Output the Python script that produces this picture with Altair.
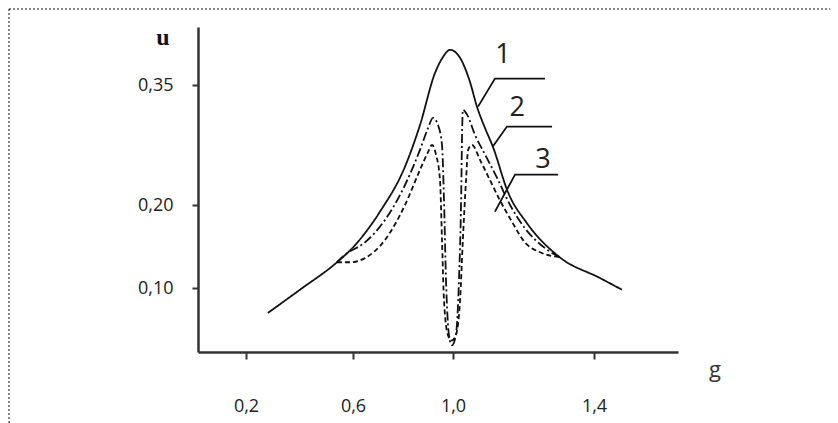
import altair as alt
import pandas as pd

# Curve 1 (solid)
g1 = [0.282, 0.402, 0.540, 0.600, 0.708, 0.808, 0.868, 0.928, 0.960, 0.988, 1.020, 1.048, 1.068, 1.091, 1.113, 1.156, 1.210, 1.303, 1.417, 1.479]
u1 = [0.070, 0.098, 0.131, 0.149, 0.192, 0.248, 0.300, 0.365, 0.385, 0.394, 0.384, 0.354, 0.323, 0.296, 0.273, 0.216, 0.178, 0.137, 0.112, 0.098]

# Curve 2 (dash-dot)
g2 = [0.540, 0.570, 0.648, 0.728, 0.808, 0.868, 0.900, 0.920, 0.940, 0.956, 0.964, 0.972, 0.984, 0.996, 1.008, 1.017, 1.023, 1.026, 1.028, 1.040, 1.062, 1.091, 1.125, 1.162, 1.204, 1.261, 1.303]
u2 = [0.131, 0.140, 0.155, 0.182, 0.225, 0.269, 0.296, 0.309, 0.300, 0.275, 0.206, 0.110, 0.043, 0.031, 0.043, 0.110, 0.206, 0.294, 0.319, 0.313, 0.288, 0.263, 0.234, 0.200, 0.172, 0.148, 0.137]

# Curve 3 (dashed)
g3 = [0.540, 0.589, 0.648, 0.728, 0.808, 0.868, 0.900, 0.916, 0.932, 0.948, 0.956, 0.964, 0.980, 0.996, 1.008, 1.020, 1.028, 1.037, 1.043, 1.054, 1.077, 1.105, 1.133, 1.167, 1.204, 1.247, 1.303]
u3 = [0.131, 0.131, 0.136, 0.158, 0.200, 0.244, 0.266, 0.275, 0.263, 0.231, 0.158, 0.085, 0.043, 0.037, 0.043, 0.085, 0.158, 0.231, 0.269, 0.275, 0.256, 0.231, 0.206, 0.180, 0.155, 0.143, 0.137]

# Curve labels and their leader lines
label_text = ["1", "2", "3"]
label_g = [1.142, 1.182, 1.255]
label_u = [0.387, 0.321, 0.256]
leader_g = [[1.071, 1.119, 1.261], [1.113, 1.153, 1.281], [1.119, 1.176, 1.298]]
leader_u = [[0.323, 0.358, 0.358], [0.273, 0.298, 0.298], [0.192, 0.238, 0.238]]

x_ticks = [0.2, 0.6, 1.0, 1.4]
y_ticks = [0.10, 0.20, 0.35]

rows = []
for name, gs, us in (("1", g1, u1), ("2", g2, u2), ("3", g3, u3)):
    for i, (g, u) in enumerate(zip(gs, us)):
        rows.append({"curve": name, "g": g, "u": u, "ord": i})
curves = pd.DataFrame(rows)

lrows = []
for k, (gs, us) in enumerate(zip(leader_g, leader_u)):
    for i, (g, u) in enumerate(zip(gs, us)):
        lrows.append({"leader": str(k + 1), "g": g, "u": u, "ord": i})
leaders = pd.DataFrame(lrows)
labels = pd.DataFrame({"t": label_text, "g": label_g, "u": label_u})

W, H = 480, 325
xscale = alt.Scale(domain=[0.0206, 0.2, 0.6, 1.0, 1.4, 1.638], range=[0, 48, 155, 255, 396, W], nice=False, zero=False)
yscale = alt.Scale(domain=[0.0229, 0.10, 0.20, 0.35, 0.4225], range=[H, 261, 178, 58, 0], nice=False, zero=False)

font = "Open Sans"
xaxis = alt.Axis(values=x_ticks, labelExpr="replace(format(datum.value,'.1f'),'.',',')", title=None, grid=False,
                 domainColor="#333", domainWidth=2.5, tickColor="#333", tickWidth=2, tickSize=7,
                 labelFont=font, labelFontSize=18, labelColor="#222", labelPadding=38)
yaxis = alt.Axis(values=y_ticks, labelExpr="replace(format(datum.value,'.2f'),'.',',')", title=None, grid=False,
                 domainColor="#333", domainWidth=2.5, tickColor="#333", tickWidth=2, tickSize=6,
                 labelFont=font, labelFontSize=18, labelColor="#222", labelPadding=19)

X = alt.X("g:Q", scale=xscale, axis=xaxis)
Y = alt.Y("u:Q", scale=yscale, axis=yaxis)

lines = alt.Chart(curves).mark_line(color="#111", strokeWidth=1.8, interpolate="monotone").encode(
    x=X, y=Y, order="ord:Q", detail="curve:N",
    strokeDash=alt.StrokeDash("curve:N", scale=alt.Scale(domain=["1", "2", "3"], range=[[1, 0], [9, 3, 2, 3], [5, 3]]), legend=None),
)

leader_lines = alt.Chart(leaders).mark_line(color="#111", strokeWidth=1.8).encode(
    x=X, y=Y, order="ord:Q", detail="leader:N"
)

label_marks = alt.Chart(labels).mark_text(font=font, fontSize=27, color="#222").encode(x=X, y=Y, text="t:N")

u_title = alt.Chart(pd.DataFrame({"t": ["u"]})).mark_text(font="Liberation Serif", fontWeight="bold", fontSize=24, color="#111").encode(
    x=alt.value(-35), y=alt.value(11), text="t:N")
g_title = alt.Chart(pd.DataFrame({"t": ["g"]})).mark_text(font=font, fontSize=22, color="#333").encode(
    x=alt.value(517), y=alt.value(343), text="t:N")

border = alt.Chart(pd.DataFrame({"b": [1]})).mark_rect(fillOpacity=0, stroke="#111", strokeWidth=1, strokeDash=[2, 2]).encode(
    x=alt.value(-189), x2=alt.value(660), y=alt.value(-18), y2=alt.value(420))

chart = alt.layer(border, lines, leader_lines, label_marks, u_title, g_title).properties(
    width=W, height=H,
    autosize=alt.AutoSizeParams(type="none"),
    padding={"left": 190, "top": 19, "right": 152, "bottom": 72},
    background="white",
).configure_view(stroke=None)

chart.save("out.html", embed_options={"renderer": "svg", "actions": False})
